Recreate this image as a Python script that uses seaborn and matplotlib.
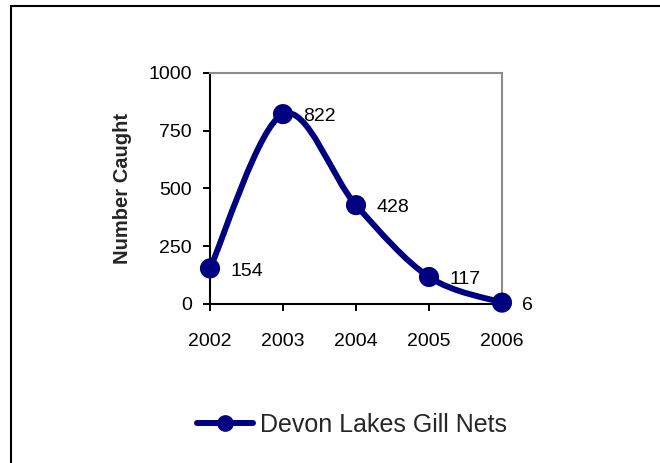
import numpy as np
import pandas as pd
import matplotlib
matplotlib.use("Agg")
import matplotlib.pyplot as plt
from matplotlib.path import Path
from matplotlib.patches import PathPatch
from matplotlib.lines import Line2D
import seaborn as sns

years = [2002, 2003, 2004, 2005, 2006]
caught = [154, 822, 428, 117, 6]
series_name = "Devon Lakes Gill Nets"
y_ticks = [0, 250, 500, 750, 1000]

navy = "#000080"

sns.set_style("white")
plt.rcParams["font.family"] = ["Liberation Sans", "DejaVu Sans"]

df = pd.DataFrame({"year": years, "caught": caught})

fig = plt.figure(figsize=(6.6, 4.63), dpi=100)
ax = fig.add_axes([210 / 660, 159 / 463, 292 / 660, 231 / 463])

# smoothed line like Excel: Catmull-Rom segments as cubic Bezier curves
pts = np.column_stack([df["year"], df["caught"]]).astype(float)
ext = np.vstack([pts[0], pts, pts[-1]])
verts = [tuple(pts[0])]
codes = [Path.MOVETO]
for i in range(1, len(ext) - 2):
    p0, p1, p2, p3 = ext[i - 1], ext[i], ext[i + 1], ext[i + 2]
    c1 = p1 + (p2 - p0) / 6
    c2 = p2 - (p3 - p1) / 6
    verts += [tuple(c1), tuple(c2), tuple(p2)]
    codes += [Path.CURVE4] * 3
ax.add_patch(PathPatch(Path(verts, codes), facecolor="none", edgecolor=navy,
                       lw=4.3, capstyle="round", joinstyle="round", zorder=2))

sns.scatterplot(data=df, x="year", y="caught", ax=ax, color=navy, s=210,
                edgecolor="none", zorder=3, clip_on=False, legend=False)

for x, v in zip(years, caught):
    ax.annotate(str(v), (x, v), xytext=(14.5, -2), textcoords="offset points",
                ha="left", va="center", fontsize=14, color="black",
                annotation_clip=False)

ax.set_xlim(2002, 2006)
ax.set_ylim(0, 1000)
ax.set_xticks(years)
ax.set_xticklabels([str(y) for y in years])
ax.set_yticks(y_ticks)
ax.set_xlabel("")
ax.set_ylabel("Number Caught", fontsize=14.5, fontweight="bold", labelpad=12)
ax.tick_params(axis="both", direction="out", length=5, width=1.4, colors="black",
               labelsize=14)
ax.tick_params(axis="x", pad=16)
ax.tick_params(axis="y", pad=8)
ax.tick_params(left=True, bottom=True)

for side in ["left", "bottom"]:
    ax.spines[side].set_color("black")
    ax.spines[side].set_linewidth(1.5)
for side in ["top", "right"]:
    ax.spines[side].set_color("#8c8c8c")
    ax.spines[side].set_linewidth(1.5)

handle = Line2D([], [], color=navy, lw=4.3, marker="o", markersize=11)
fig.legend([handle], [series_name], loc="center left",
           bbox_to_anchor=(197 / 660, 1 - 425 / 463), frameon=False,
           fontsize=18, handlelength=2.25, handletextpad=0.28,
           borderpad=0, borderaxespad=0)

# outer chart border (top and left edges visible)
fig.add_artist(Line2D([11 / 660, 1], [1 - 6 / 463, 1 - 6 / 463],
                      transform=fig.transFigure, color="black", lw=1.5))
fig.add_artist(Line2D([11 / 660, 11 / 660], [0, 1 - 6 / 463],
                      transform=fig.transFigure, color="black", lw=1.5))

fig.savefig("out.png", dpi=100, facecolor="white")
plt.close(fig)
